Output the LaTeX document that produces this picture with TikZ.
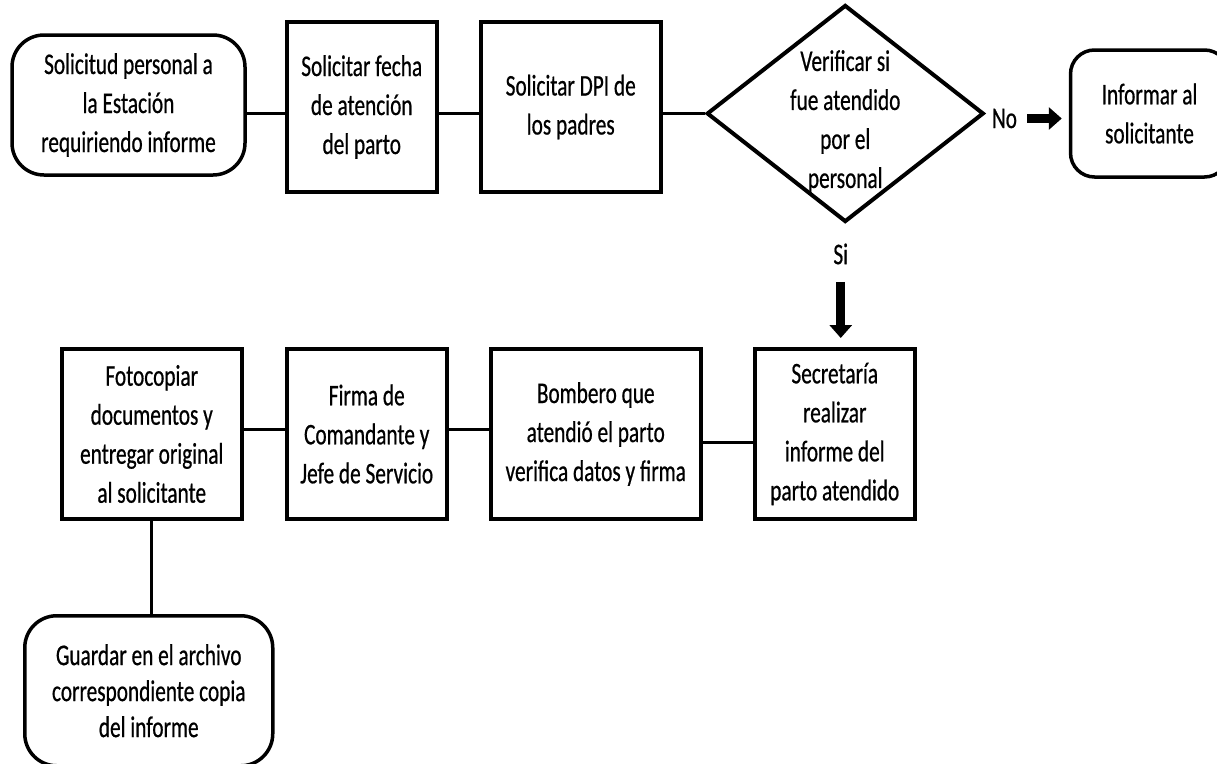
\documentclass[tikz,border=0pt]{standalone}
\usepackage{fontspec}
\setmainfont{Carlito}[FakeStretch=0.71, FakeBold=0.6]
\usetikzlibrary{positioning, arrows.meta, shapes.geometric}

\begin{document}
\begin{tikzpicture}[
  x=1pt, y=1pt,
  font=\fontsize{30}{39}\selectfont,
  node distance=40pt and 40pt,
  every node/.style={align=center},
  proc/.style={draw, line width=4pt, minimum height=170pt, inner sep=2pt},
  terminal/.style={draw, line width=3.5pt, rounded corners=#1, inner sep=2pt},
  terminal/.default=32pt,
  decision/.style={draw, diamond, line width=4pt, minimum width=277pt,
                   minimum height=217pt, inner sep=0pt},
  conn/.style={line width=3pt},
  fatarrow/.style={-{Triangle[length=13pt, width=22pt]}, line width=9pt}
]
\useasboundingbox (0,0) rectangle (1217,-763);

% top row
\node[terminal, minimum width=233pt, minimum height=140pt] (sol) at (128.5,-105)
  {Solicitud personal a\\la Estación\\requiriendo informe};
\node[proc, minimum width=150pt, right=38pt of sol, yshift=-2pt] (fec)
  {Solicitar fecha\\de atención\\del parto};
\node[proc, minimum width=180pt, right=40pt of fec] (dpi)
  {Solicitar DPI de\\los padres};
\node[decision, right=42pt of dpi, yshift=-6.5pt] (dec) {};
\node[inner sep=0pt, yshift=-8pt] (dectext) at (dec.center)
  {Verificar si\\fue atendido\\por el\\personal};
\node[inner sep=1pt, right=5pt of dec.east, yshift=-5pt] (no) {No};
\node[terminal=24pt, minimum width=158pt, minimum height=127pt,
      right=83pt of dec] (inf) {Informar al\\solicitante};
\node[below=16pt of dec, xshift=-4.5pt] (si) {Si};

% bottom row
\node[proc, minimum width=160pt, below=123pt of dec, xshift=-10.5pt] (sec)
  {Secretaría\\realizar\\informe del\\parto atendido};
\node[proc, minimum width=210pt, left=50pt of sec] (bom)
  {Bombero que\\atendió el parto\\verifica datos y firma};
\node[proc, minimum width=160pt, left=40pt of bom] (fir)
  {Firma de\\Comandante y\\Jefe de Servicio};
\node[proc, minimum width=180pt, left=41pt of fir] (foto)
  {Fotocopiar\\documentos y\\entregar original\\al solicitante};
\node[terminal, minimum width=248pt, minimum height=150pt,
      font=\fontsize{30}{36}\selectfont,
      below=93pt of foto, xshift=-3pt] (gua)
  {Guardar en el archivo\\correspondiente copia\\del informe};

\draw[conn] (sol.east |- dec.west) -- (fec.west |- dec.west);
\draw[conn] (fec.east |- dec.west) -- (dpi.west |- dec.west);
\draw[conn] (dpi.east |- dec.west) -- (dec.west);
\draw[fatarrow, shorten <=9pt, shorten >=7pt] (no.east) -- (no.east -| inf.west);
\draw[fatarrow, shorten <=14pt, shorten >=9pt] (si.south) -- (si.south |- sec.north);
\draw[conn] ([yshift=5pt]foto.east) -- ([yshift=5pt]fir.west);
\draw[conn] ([yshift=5pt]fir.east) -- ([yshift=5pt]bom.west);
\draw[conn] ([yshift=-8pt]bom.east) -- ([yshift=-8pt]sec.west);
\draw[conn] (foto.south) -- (foto.south |- gua.north);

\end{tikzpicture}
\end{document}
